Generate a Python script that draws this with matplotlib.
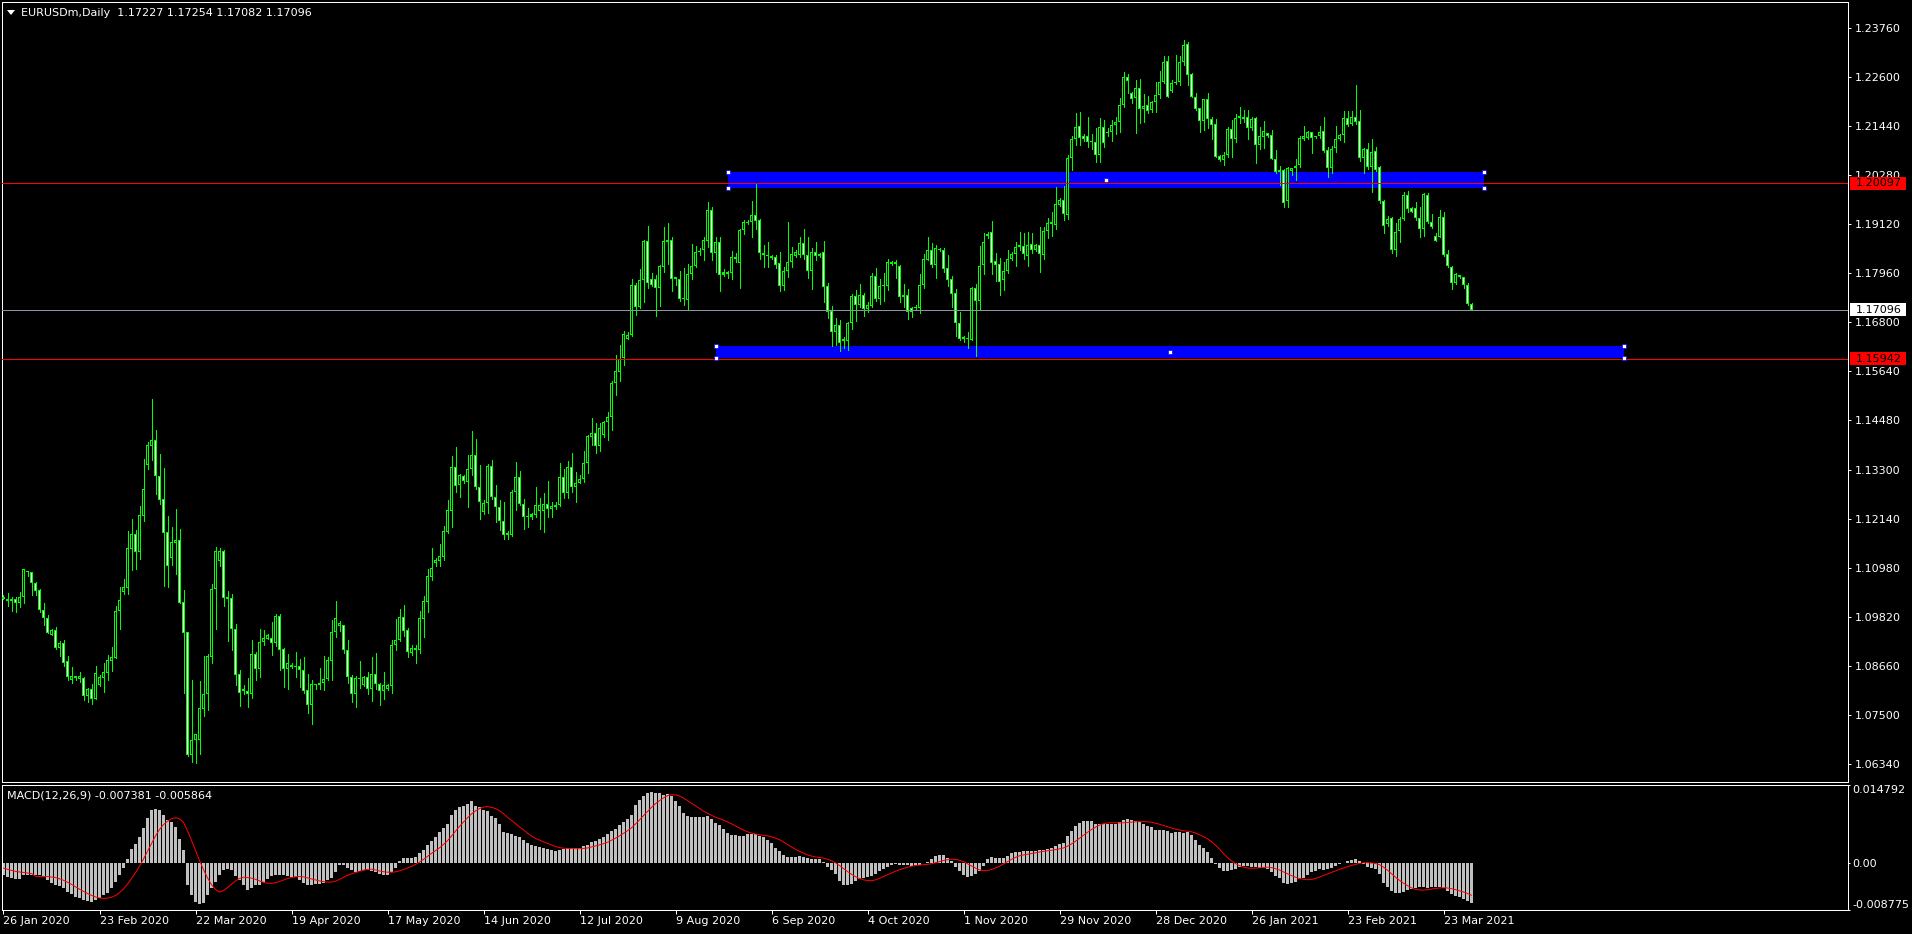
import numpy as np
import matplotlib
matplotlib.use("Agg")
import matplotlib.pyplot as plt
from matplotlib.patches import Rectangle, Polygon

W, H, DPI = 1912, 934, 100
plt.rcParams['font.family'] = ['DejaVu Sans']
FS = 8.0
GREEN = '#00ff00'

# ---------------- data (EURUSDm, Daily) ----------------
opens = [
1.1026,1.1026,1.1025,1.1024,1.1015,1.1029,1.1091,1.1090,1.1063,1.1046,
1.1000,1.0981,1.0940,1.0951,1.0910,1.0920,1.0877,1.0832,1.0843,1.0836,
1.0838,1.0795,1.0812,1.0787,1.0822,1.0839,1.0849,1.0879,1.0886,1.0997,
1.1042,1.1051,1.1144,1.1179,1.1136,1.1221,1.1342,1.1387,1.1401,1.1316,
1.1262,1.1183,1.1123,1.1158,1.1165,1.1018,1.0947,1.0656,1.0691,1.0690,
1.0765,1.0799,1.0888,1.1048,1.1116,1.1139,1.1030,1.1027,1.0954,1.0847,
1.0811,1.0806,1.0799,1.0895,1.0860,1.0922,1.0931,1.0932,1.0920,1.0985,
1.0906,1.0860,1.0869,1.0866,1.0866,1.0858,1.0809,1.0775,1.0824,1.0822,
1.0825,1.0835,1.0877,1.0946,1.0962,1.0963,1.0904,1.0840,1.0799,1.0838,
1.0822,1.0840,1.0811,1.0847,1.0824,1.0806,1.0811,1.0820,1.0915,1.0928,
1.0982,1.0951,1.0896,1.0909,1.0903,1.0978,1.1017,1.1078,1.1111,1.1116,
1.1125,1.1184,1.1234,1.1337,1.1294,1.1316,1.1303,1.1332,1.1367,1.1289,
1.1232,1.1252,1.1340,1.1266,1.1242,1.1209,1.1177,1.1177,1.1278,1.1313,
1.1251,1.1220,1.1220,1.1223,1.1234,1.1234,1.1251,1.1237,1.1242,1.1247,
1.1313,1.1275,1.1337,1.1289,1.1300,1.1308,1.1346,1.1409,1.1417,1.1388,
1.1413,1.1443,1.1455,1.1536,1.1563,1.1595,1.1641,1.1649,1.1768,1.1717,
1.1779,1.1872,1.1782,1.1782,1.1760,1.1812,1.1871,1.1874,1.1782,1.1782,
1.1737,1.1733,1.1794,1.1814,1.1846,1.1850,1.1873,1.1946,1.1843,1.1869,
1.1793,1.1798,1.1796,1.1834,1.1820,1.1899,1.1918,1.1918,1.1935,1.1922,
1.1845,1.1840,1.1836,1.1834,1.1820,1.1767,1.1802,1.1822,1.1838,1.1840,
1.1867,1.1840,1.1802,1.1847,1.1837,1.1847,1.1765,1.1706,1.1656,1.1674,
1.1636,1.1635,1.1678,1.1742,1.1721,1.1745,1.1711,1.1719,1.1790,1.1736,
1.1766,1.1766,1.1823,1.1819,1.1813,1.1741,1.1744,1.1714,1.1717,1.1715,
1.1768,1.1827,1.1851,1.1815,1.1853,1.1852,1.1808,1.1782,1.1749,1.1678,
1.1645,1.1642,1.1638,1.1760,1.1731,1.1816,1.1889,1.1893,1.1824,1.1818,
1.1779,1.1802,1.1831,1.1842,1.1862,1.1861,1.1836,1.1865,1.1850,1.1862,
1.1840,1.1896,1.1917,1.1910,1.1957,1.1970,1.1935,1.2069,1.2113,1.2145,
1.2121,1.2120,1.2109,1.2108,1.2076,1.2142,1.2130,1.2131,1.2148,1.2153,
1.2194,1.2260,1.2222,1.2210,1.2234,1.2186,1.2194,1.2183,1.2202,1.2218,
1.2250,1.2298,1.2228,1.2247,1.2250,1.2296,1.2339,1.2267,1.2213,1.2187,
1.2157,1.2208,1.2161,1.2149,1.2074,1.2064,1.2076,1.2137,1.2113,1.2164,
1.2165,1.2165,1.2140,1.2163,1.2100,1.2119,1.2127,1.2123,1.2066,1.2041,
1.2041,1.1966,1.2037,1.2046,1.2052,1.2113,1.2116,1.2131,1.2121,1.2120,
1.2132,1.2088,1.2045,1.2092,1.2115,1.2123,1.2164,1.2149,1.2167,1.2156,
1.2068,1.2090,1.2047,1.2085,1.2047,1.1966,1.1912,1.1926,1.1851,1.1895,
1.1924,1.1981,1.1950,1.1950,1.1926,1.1902,1.1981,1.1917,1.1884,1.1883,
1.1930,1.1842,1.1812,1.1774,1.1792,1.1787,1.1769,1.17227]

highs = [
1.1034,1.1038,1.1030,1.1030,1.1042,1.1095,1.1091,1.1090,1.1066,1.1048,
1.1015,1.0987,1.0953,1.0959,1.0926,1.0928,1.0890,1.0863,1.0843,1.0852,
1.0840,1.0815,1.0824,1.0866,1.0845,1.0873,1.0892,1.0911,1.1008,1.1054,
1.1072,1.1187,1.1214,1.1188,1.1245,1.1356,1.1397,1.1498,1.1425,1.1368,
1.1335,1.1221,1.1195,1.1238,1.1191,1.1046,1.0947,1.0833,1.0705,1.0831,
1.0890,1.0895,1.1060,1.1147,1.1146,1.1141,1.1045,1.1037,1.0966,1.0857,
1.0821,1.0838,1.0928,1.0900,1.0953,1.0952,1.0942,1.0971,1.0989,1.0989,
1.0909,1.0895,1.0874,1.0900,1.0883,1.0888,1.0847,1.0832,1.0824,1.0862,
1.0890,1.0887,1.0975,1.1020,1.0972,1.0963,1.0928,1.0844,1.0843,1.0879,
1.0843,1.0852,1.0888,1.0898,1.0825,1.0852,1.0824,1.0928,1.0978,1.1001,
1.1011,1.0956,1.0915,1.0916,1.0997,1.1032,1.1096,1.1146,1.1121,1.1155,
1.1198,1.1259,1.1364,1.1384,1.1321,1.1319,1.1365,1.1423,1.1404,1.1342,
1.1259,1.1344,1.1354,1.1294,1.1259,1.1255,1.1187,1.1283,1.1349,1.1328,
1.1261,1.1240,1.1229,1.1289,1.1264,1.1277,1.1304,1.1255,1.1255,1.1346,
1.1332,1.1351,1.1370,1.1326,1.1318,1.1375,1.1412,1.1454,1.1442,1.1441,
1.1446,1.1468,1.1542,1.1603,1.1627,1.1660,1.1657,1.1783,1.1772,1.1807,
1.1876,1.1908,1.1796,1.1791,1.1815,1.1906,1.1916,1.1883,1.1787,1.1801,
1.1808,1.1818,1.1865,1.1860,1.1855,1.1881,1.1965,1.1954,1.1881,1.1881,
1.1805,1.1802,1.1848,1.1843,1.1902,1.1921,1.1922,1.1967,1.2009,1.1925,
1.1862,1.1870,1.1840,1.1840,1.1847,1.1812,1.1917,1.1859,1.1850,1.1882,
1.1901,1.1881,1.1855,1.1870,1.1845,1.1872,1.1774,1.1719,1.1690,1.1686,
1.1646,1.1681,1.1747,1.1756,1.1771,1.1750,1.1729,1.1796,1.1809,1.1783,
1.1796,1.1829,1.1826,1.1828,1.1816,1.1771,1.1759,1.1716,1.1720,1.1794,
1.1842,1.1881,1.1867,1.1863,1.1857,1.1855,1.1839,1.1790,1.1758,1.1704,
1.1648,1.1657,1.1763,1.1771,1.1861,1.1891,1.1893,1.1920,1.1843,1.1833,
1.1823,1.1850,1.1846,1.1870,1.1894,1.1891,1.1894,1.1891,1.1866,1.1905,
1.1905,1.1928,1.1941,1.2001,1.1975,1.2003,1.2077,1.2122,1.2175,1.2177,
1.2125,1.2167,1.2125,1.2140,1.2164,1.2160,1.2140,1.2160,1.2165,1.2210,
1.2273,1.2268,1.2225,1.2253,1.2255,1.2220,1.2215,1.2203,1.2249,1.2275,
1.2310,1.2310,1.2254,1.2312,1.2310,1.2349,1.2344,1.2269,1.2222,1.2187,
1.2208,1.2222,1.2167,1.2161,1.2077,1.2084,1.2143,1.2159,1.2173,1.2189,
1.2183,1.2183,1.2165,1.2165,1.2143,1.2157,1.2129,1.2135,1.2088,1.2050,
1.2044,1.2047,1.2045,1.2066,1.2120,1.2145,1.2132,1.2131,1.2122,1.2145,
1.2167,1.2096,1.2098,1.2145,1.2125,1.2180,1.2180,1.2181,1.2241,1.2183,
1.2092,1.2104,1.2113,1.2096,1.2049,1.1970,1.1932,1.1930,1.1914,1.1930,
1.1989,1.1990,1.1954,1.1965,1.1954,1.1987,1.1987,1.1937,1.1891,1.1946,
1.1940,1.1851,1.1813,1.1796,1.1793,1.1788,1.1772,1.17254]

lows = [
1.1024,1.1008,1.0997,1.0993,1.1007,1.1015,1.1079,1.1035,1.1035,1.0995,
1.0964,1.0944,1.0940,1.0906,1.0890,1.0866,1.0833,1.0827,1.0833,1.0828,
1.0786,1.0782,1.0776,1.0787,1.0819,1.0805,1.0832,1.0855,1.0885,1.0955,
1.1037,1.1037,1.1094,1.1096,1.1120,1.1210,1.1333,1.1354,1.1274,1.1251,
1.1056,1.1054,1.1105,1.1084,1.1016,1.0803,1.0653,1.0638,1.0636,1.0658,
1.0748,1.0761,1.0874,1.0955,1.1103,1.1008,1.0926,1.0903,1.0821,1.0772,
1.0800,1.0770,1.0791,1.0832,1.0841,1.0915,1.0930,1.0892,1.0914,1.0858,
1.0817,1.0813,1.0862,1.0841,1.0817,1.0803,1.0756,1.0728,1.0813,1.0813,
1.0810,1.0833,1.0833,1.0936,1.0950,1.0896,1.0825,1.0781,1.0769,1.0814,
1.0819,1.0800,1.0784,1.0811,1.0775,1.0789,1.0810,1.0802,1.0903,1.0926,
1.0937,1.0887,1.0892,1.0873,1.0898,1.0934,1.0993,1.1071,1.1102,1.1102,
1.1117,1.1180,1.1195,1.1279,1.1267,1.1300,1.1242,1.1319,1.1285,1.1214,
1.1225,1.1229,1.1261,1.1207,1.1188,1.1168,1.1168,1.1175,1.1236,1.1247,
1.1191,1.1196,1.1215,1.1218,1.1191,1.1184,1.1220,1.1220,1.1239,1.1245,
1.1263,1.1263,1.1278,1.1255,1.1300,1.1303,1.1324,1.1389,1.1370,1.1376,
1.1409,1.1401,1.1424,1.1507,1.1540,1.1580,1.1640,1.1648,1.1698,1.1713,
1.1729,1.1760,1.1766,1.1695,1.1719,1.1798,1.1818,1.1755,1.1769,1.1730,
1.1721,1.1711,1.1782,1.1810,1.1840,1.1827,1.1859,1.1827,1.1799,1.1753,
1.1790,1.1784,1.1782,1.1822,1.1762,1.1890,1.1912,1.1881,1.1900,1.1830,
1.1810,1.1812,1.1829,1.1808,1.1753,1.1757,1.1788,1.1810,1.1835,1.1835,
1.1830,1.1784,1.1758,1.1828,1.1835,1.1729,1.1690,1.1625,1.1626,1.1612,
1.1620,1.1615,1.1665,1.1683,1.1717,1.1696,1.1705,1.1717,1.1730,1.1723,
1.1730,1.1757,1.1816,1.1784,1.1729,1.1717,1.1688,1.1693,1.1712,1.1703,
1.1760,1.1827,1.1810,1.1786,1.1848,1.1798,1.1767,1.1717,1.1648,1.1638,
1.1634,1.1620,1.1637,1.1600,1.1711,1.1794,1.1880,1.1794,1.1778,1.1745,
1.1756,1.1797,1.1828,1.1813,1.1850,1.1830,1.1813,1.1845,1.1848,1.1800,
1.1830,1.1880,1.1884,1.1900,1.1955,1.1923,1.1925,1.2040,1.2100,1.2100,
1.2110,1.2096,1.2090,1.2060,1.2060,1.2095,1.2120,1.2110,1.2125,1.2130,
1.2189,1.2222,1.2200,1.2127,1.2151,1.2153,1.2175,1.2179,1.2177,1.2210,
1.2246,1.2215,1.2226,1.2244,1.2242,1.2290,1.2242,1.2213,1.2183,1.2131,
1.2135,1.2139,1.2113,1.2071,1.2063,1.2053,1.2072,1.2072,1.2108,1.2151,
1.2155,1.2114,1.2136,1.2058,1.2090,1.2092,1.2118,1.2066,1.2033,1.2004,
1.1954,1.1952,1.2029,1.2018,1.2048,1.2112,1.2115,1.2080,1.2117,1.2116,
1.2082,1.2023,1.2034,1.2082,1.2112,1.2107,1.2145,1.2146,1.2150,1.2061,
1.2033,1.2042,1.1989,1.2037,1.1963,1.1892,1.1908,1.1843,1.1836,1.1869,
1.1922,1.1940,1.1940,1.1922,1.1881,1.1884,1.1914,1.1903,1.1872,1.1881,
1.1837,1.1812,1.1758,1.1771,1.1786,1.1760,1.1721,1.17082]

closes = [
1.1029,1.1019,1.1019,1.1015,1.1029,1.1095,1.1090,1.1062,1.1045,1.0999,
1.0981,1.0945,1.0951,1.0909,1.0921,1.0874,1.0841,1.0843,1.0838,1.0843,
1.0795,1.0812,1.0789,1.0849,1.0841,1.0852,1.0881,1.0888,1.0997,1.1023,
1.1054,1.1146,1.1179,1.1136,1.1224,1.1285,1.1390,1.1401,1.1315,1.1259,
1.1182,1.1104,1.1160,1.1165,1.1016,1.0945,1.0656,1.0691,1.0705,1.0767,
1.0800,1.0890,1.1049,1.1139,1.1139,1.1028,1.1026,1.0953,1.0846,1.0802,
1.0806,1.0800,1.0895,1.0860,1.0922,1.0932,1.0939,1.0920,1.0985,1.0904,
1.0860,1.0873,1.0865,1.0865,1.0858,1.0806,1.0775,1.0823,1.0821,1.0826,
1.0835,1.0881,1.0946,1.0979,1.0968,1.0903,1.0840,1.0799,1.0838,1.0836,
1.0840,1.0811,1.0847,1.0823,1.0806,1.0821,1.0821,1.0915,1.0928,1.0982,
1.0950,1.0899,1.0910,1.0904,1.0979,1.1019,1.1079,1.1098,1.1117,1.1127,
1.1186,1.1236,1.1337,1.1293,1.1318,1.1304,1.1332,1.1367,1.1289,1.1255,
1.1252,1.1340,1.1266,1.1242,1.1209,1.1177,1.1182,1.1278,1.1313,1.1250,
1.1218,1.1218,1.1225,1.1247,1.1247,1.1251,1.1237,1.1245,1.1248,1.1313,
1.1275,1.1337,1.1289,1.1299,1.1308,1.1346,1.1411,1.1417,1.1388,1.1430,
1.1443,1.1455,1.1536,1.1565,1.1593,1.1652,1.1649,1.1768,1.1717,1.1779,
1.1872,1.1774,1.1769,1.1760,1.1813,1.1872,1.1874,1.1782,1.1787,1.1734,
1.1734,1.1794,1.1814,1.1846,1.1849,1.1875,1.1946,1.1843,1.1869,1.1791,
1.1798,1.1794,1.1834,1.1829,1.1899,1.1918,1.1916,1.1935,1.1920,1.1845,
1.1840,1.1836,1.1833,1.1816,1.1767,1.1802,1.1823,1.1842,1.1847,1.1867,
1.1840,1.1802,1.1847,1.1837,1.1842,1.1763,1.1705,1.1656,1.1674,1.1631,
1.1640,1.1679,1.1742,1.1721,1.1745,1.1711,1.1721,1.1790,1.1736,1.1766,
1.1768,1.1823,1.1819,1.1823,1.1741,1.1744,1.1705,1.1705,1.1715,1.1768,
1.1829,1.1851,1.1815,1.1855,1.1851,1.1807,1.1780,1.1748,1.1678,1.1641,
1.1640,1.1640,1.1760,1.1731,1.1813,1.1869,1.1885,1.1821,1.1815,1.1776,
1.1802,1.1831,1.1841,1.1858,1.1859,1.1841,1.1864,1.1852,1.1862,1.1841,
1.1896,1.1914,1.1912,1.1960,1.1970,1.1936,1.2069,1.2113,1.2142,1.2116,
1.2115,1.2108,1.2108,1.2076,1.2142,1.2105,1.2127,1.2146,1.2154,1.2194,
1.2260,1.2252,1.2208,1.2234,1.2184,1.2192,1.2181,1.2202,1.2217,1.2250,
1.2296,1.2214,1.2246,1.2250,1.2296,1.2336,1.2266,1.2214,1.2184,1.2157,
1.2208,1.2161,1.2146,1.2071,1.2064,1.2076,1.2137,1.2113,1.2163,1.2168,
1.2162,1.2140,1.2161,1.2100,1.2121,1.2132,1.2120,1.2066,1.2035,1.2035,
1.1963,1.2045,1.2045,1.2050,1.2116,1.2120,1.2131,1.2116,1.2118,1.2131,
1.2086,1.2045,1.2090,1.2113,1.2123,1.2164,1.2148,1.2167,1.2153,1.2069,
1.2090,1.2047,1.2083,1.2041,1.1966,1.1907,1.1924,1.1851,1.1893,1.1924,
1.1981,1.1948,1.1942,1.1926,1.1900,1.1984,1.1918,1.1905,1.1873,1.1930,
1.1839,1.1813,1.1774,1.1795,1.1787,1.1769,1.1723,1.17096]

# MACD(12,26,9) main line, in units of 0.0001
macd_e4 = [
-21,-25,-28,-30,-30,-21,-21,-21,-22,-22,-25,-31,-36,-40,-42,-47,-53,-58,-63,-66,
-69,-71,-72,-69,-65,-60,-55,-47,-35,-22,-8,9,27,36,50,66,85,101,102,101,
92,82,79,69,46,25,-41,-60,-72,-77,-74,-60,-47,-35,-21,-13,-11,-13,-23,-31,
-40,-50,-47,-41,-40,-35,-30,-23,-21,-21,-22,-23,-25,-25,-31,-36,-40,-40,-38,-38,
-36,-31,-27,-17,-3,-3,-8,-13,-16,-14,-13,-13,-14,-17,-19,-21,-21,-17,-8,4,
11,11,11,13,19,25,35,42,50,60,67,75,92,101,107,109,113,118,109,107,
101,99,90,85,74,60,58,55,52,50,44,38,34,33,31,30,28,26,24,25,
28,30,30,29,30,32,35,40,43,46,50,55,62,65,72,79,84,92,111,119,
128,133,134,133,132,129,131,127,118,109,96,90,88,87,87,87,89,84,77,72,
65,57,54,53,52,52,55,56,55,52,49,44,38,30,24,16,13,13,13,14,
13,11,9,8,8,2,-6,-13,-20,-34,-41,-41,-38,-33,-30,-28,-25,-23,-19,-15,
-11,-6,-3,-1,-3,-3,-2,-4,-3,-2,0,3,9,14,16,16,11,5,-6,-14,
-21,-26,-24,-20,-14,-4,8,13,11,10,11,15,19,21,22,23,24,23,23,25,
26,28,30,33,36,39,52,62,70,77,80,80,80,75,75,75,75,74,75,79,
82,84,82,80,79,75,70,68,63,64,64,61,58,60,59,58,60,53,44,35,
29,21,11,-1,-9,-15,-15,-13,-10,-6,-4,-4,-6,-7,-8,-8,-11,-17,-23,-28,
-36,-38,-37,-35,-30,-27,-22,-17,-14,-11,-12,-11,-8,-4,-1,1,5,7,8,4,
-1,-6,-8,-11,-19,-36,-44,-52,-56,-55,-53,-50,-49,-46,-45,-45,-47,-45,-44,-45,
-47,-52,-58,-62,-64,-67,-70,-74]
# signal line for the first bars (before 9 MACD values exist)
signal_head_e4 = [-9, -11, -13, -15, -16, -17, -18, -19]

date_tick_bars = [0, 24, 48, 72, 96, 120, 144, 168, 192, 216, 240, 264, 288, 312, 336, 360]
date_tick_labels = ['26 Jan 2020', '23 Feb 2020', '22 Mar 2020', '19 Apr 2020', '17 May 2020',
                    '14 Jun 2020', '12 Jul 2020', '9 Aug 2020', '6 Sep 2020', '4 Oct 2020',
                    '1 Nov 2020', '29 Nov 2020', '28 Dec 2020', '26 Jan 2021', '23 Feb 2021',
                    '23 Mar 2021']
price_ticks = [1.23760, 1.22600, 1.21440, 1.20280, 1.19120, 1.17960, 1.16800, 1.15640,
               1.14480, 1.13300, 1.12140, 1.10980, 1.09820, 1.08660, 1.07500, 1.06340]
macd_min, macd_max = -0.008775, 0.014792

red_levels = [1.20097, 1.15942]
bid_level = 1.17096
# rectangles: (bar start, bar end, price low, price high)
zone_start = [181, 178]
zone_end = [370, 405]
zone_low = [1.19986, 1.15947]
zone_high = [1.20358, 1.16242]

header_text = "EURUSDm,Daily  1.17227 1.17254 1.17082 1.17096"
macd_text = "MACD(12,26,9) -0.007381 -0.005864"

# ---------------- layout (pixels) ----------------
PANE_L, PANE_R = 2, 1848
MAIN_T, MAIN_B = 1.5, 782
MACD_T, MACD_B = 785, 910
BAR_PX, BAR0_PX = 4.0, 3.5
PX_PER_PRICE = 4224.0          # from the price scale spacing
REF_PRICE, REF_Y = 1.2376, 28.3
LW = 72.0 / DPI                # one pixel in points

n = min(len(opens), len(highs), len(lows), len(closes))
o = np.array(opens[:n]); h = np.array(highs[:n]); l = np.array(lows[:n]); c = np.array(closes[:n])
x = np.arange(n)

fig = plt.figure(figsize=(W / DPI, H / DPI), dpi=DPI)
fig.patch.set_facecolor('black')


def frac_rect(left, top, right, bottom):
    return [left / W, 1 - bottom / H, (right - left) / W, (bottom - top) / H]


xlim = ((PANE_L - BAR0_PX) / BAR_PX, (PANE_R - BAR0_PX) / BAR_PX)

# ---------------- main price pane ----------------
ax = fig.add_axes(frac_rect(PANE_L, MAIN_T, PANE_R, MAIN_B))
ax.set_facecolor('black')
ax.set_xlim(*xlim)
ax.set_ylim(REF_PRICE - (MAIN_B - REF_Y) / PX_PER_PRICE, REF_PRICE + (REF_Y - MAIN_T) / PX_PER_PRICE)
for s in ax.spines.values():
    s.set_color('white'); s.set_linewidth(LW)
ax.set_xticks([])
ax.yaxis.tick_right()
ax.set_yticks(price_ticks)
ax.set_yticklabels([f"{v:.5f}" for v in price_ticks])
ax.tick_params(axis='y', colors='white', labelcolor='white', length=3 * LW, width=LW,
               pad=4 * LW, labelsize=FS)

onepx = 1.0 / PX_PER_PRICE

# rectangles (drawn as background)
for xs, xe, lo, hi in zip(zone_start, zone_end, zone_low, zone_high):
    ax.add_patch(Rectangle((xs, lo), xe - xs, hi - lo, facecolor='#0000ff', edgecolor='none',
                           antialiased=False, zorder=1))

# candles
top = np.maximum(o, c)
bot = np.minimum(o, c)
ax.vlines(x, np.minimum(l, bot), np.maximum(h, top), colors=GREEN, linewidth=LW,
          antialiased=False, zorder=3)
ax.bar(x, np.maximum(top - bot, onepx), width=0.75, bottom=bot, color=GREEN, linewidth=0,
       antialiased=False, zorder=4)
inner = top - bot - 2 * onepx
m = inner > 0.5 * onepx
ax.bar(x[m], inner[m], width=0.25, bottom=bot[m] + onepx,
       color=np.where(c[m] >= o[m], 'black', 'white'), linewidth=0, antialiased=False, zorder=5)

# horizontal lines
for lvl in red_levels:
    ax.axhline(lvl, color='#ff0000', linewidth=LW, antialiased=False, zorder=6)
ax.axhline(bid_level, color='#8a96a3', linewidth=LW, antialiased=False, zorder=6)

# rectangle anchor points (selected objects)
for xs, xe, lo, hi in zip(zone_start, zone_end, zone_low, zone_high):
    ax.plot([xs, xs, xe, xe, (xs + xe) / 2], [hi, lo, hi, lo, (hi + lo) / 2], linestyle='none',
            marker='s', markersize=3.2, markerfacecolor='white', markeredgecolor='#0000ff',
            markeredgewidth=0.5, zorder=7, clip_on=False)

# price label boxes on the scale
fig.canvas.draw()
for lvl, fc in [(red_levels[0], '#ff0000'), (bid_level, '#ffffff'), (red_levels[1], '#ff0000')]:
    yd = ax.transData.transform((0, lvl))[1]
    fig.add_artist(Rectangle((1850 / W, (yd - 6.5) / H), 56 / W, 13 / H, transform=fig.transFigure,
                             facecolor=fc, edgecolor='none', zorder=10))
    fig.text(1856 / W, yd / H, f"{lvl:.5f}", color='black', fontsize=FS, va='center', ha='left',
             zorder=11)

# header
fig.add_artist(Polygon([[7 / W, 1 - 10 / H], [15 / W, 1 - 10 / H], [11 / W, 1 - 15 / H]],
                       closed=True, transform=fig.transFigure, facecolor='white', edgecolor='none',
                       zorder=10))
fig.text(21 / W, 1 - 12.7 / H, header_text, color='white', fontsize=FS, va='center', ha='left',
         zorder=10)

# ---------------- MACD pane ----------------
macd = np.array(macd_e4[:n]) * 1e-4
sig = np.empty(n)
k0 = len(signal_head_e4)
sig[:k0] = np.array(signal_head_e4) * 1e-4
for k in range(k0, n):
    sig[k] = macd[max(0, k - 8):k + 1].mean()

axm = fig.add_axes(frac_rect(PANE_L, MACD_T, PANE_R, MACD_B))
axm.set_facecolor('black')
axm.set_xlim(*xlim)
axm.set_ylim(macd_min, macd_max)
for s in axm.spines.values():
    s.set_color('white'); s.set_linewidth(LW)
axm.bar(x, macd, width=0.75, color='#c0c0c0', linewidth=0, antialiased=False, zorder=2)
axm.plot(x, sig, color='#ff0000', linewidth=LW, zorder=3)

axm.yaxis.tick_right()
axm.set_yticks([macd_min, 0.0, macd_max])
axm.set_yticklabels([f"{macd_min:.6f}", "0.00", f"{macd_max:.6f}"])
axm.tick_params(axis='y', colors='white', labelcolor='white', length=2 * LW, width=LW,
                pad=2 * LW, labelsize=FS)
ticks = axm.yaxis.get_major_ticks()
ticks[0].label2.set_va('bottom')
ticks[2].label2.set_va('top')

axm.set_xticks(date_tick_bars)
axm.set_xticklabels(date_tick_labels, ha='left')
axm.tick_params(axis='x', colors='white', labelcolor='white', length=4 * LW, width=LW,
                pad=1.5 * LW, labelsize=FS)

fig.text(7 / W, 1 - 796 / H, macd_text, color='white', fontsize=FS, va='center', ha='left',
         zorder=10)

fig.savefig('out.png', dpi=DPI, facecolor='black')
